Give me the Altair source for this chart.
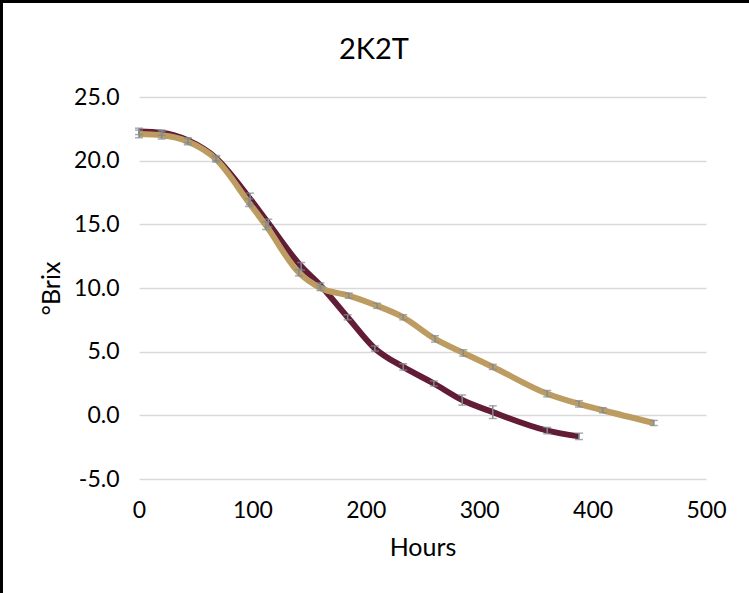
import altair as alt
import pandas as pd

# Series A (maroon)
hours_a = [0, 20, 43, 68, 98, 114, 143, 160, 184, 208, 233, 260, 285, 312, 360, 388]
brix_a = [22.3, 22.2, 21.6, 20.2, 17.0, 15.1, 11.7, 10.2, 7.7, 5.25, 3.8, 2.5, 1.2, 0.25, -1.2, -1.65]
err_a = [0.25, 0.2, 0.2, 0.2, 0.45, 0.3, 0.3, 0.2, 0.2, 0.2, 0.25, 0.2, 0.4, 0.5, 0.25, 0.25]

# Series B (tan)
hours_b = [0, 20, 43, 68, 97, 112, 141, 160, 185, 210, 233, 261, 286, 312, 360, 388, 409, 454]
brix_b = [22.1, 22.0, 21.5, 20.1, 16.7, 14.9, 11.2, 10.0, 9.4, 8.6, 7.7, 6.0, 4.9, 3.8, 1.7, 0.9, 0.4, -0.6]
err_b = [0.3, 0.3, 0.25, 0.2, 0.3, 0.3, 0.25, 0.2, 0.2, 0.2, 0.2, 0.25, 0.25, 0.2, 0.25, 0.25, 0.2, 0.2]

y_ticks = [-5, 0, 5, 10, 15, 20, 25]
x_ticks = [0, 100, 200, 300, 400, 500]
chart_title = ["2K2T"]

da = pd.DataFrame({"h": hours_a, "b": brix_a, "e": err_a, "s": "A"})
db = pd.DataFrame({"h": hours_b, "b": brix_b, "e": err_b, "s": "B"})
for d in (da, db):
    d["lo"] = d["b"] - d["e"]
    d["hi"] = d["b"] + d["e"]
dall = pd.concat([da, db], ignore_index=True)

FONT = "Lato"
W, H = 567, 382
PL, PT = 139, 97

ylab = "datum.value < 0 ? '-' + format(-datum.value, '.1f') : format(datum.value, '.1f')"

xs = alt.X("h:Q", scale=alt.Scale(domain=[0, 500], nice=False),
           axis=alt.Axis(values=x_ticks, title="Hours", format="d", labelFlush=False))
ys = alt.Y("b:Q", scale=alt.Scale(domain=[-5, 25], nice=False),
           axis=alt.Axis(values=y_ticks, title="°Brix", labelExpr=ylab))

line_a = alt.Chart(da).mark_line(color="#621c35", strokeWidth=6,
                                 interpolate="monotone").encode(x=xs, y=ys)
line_b = alt.Chart(db).mark_line(color="#bd9c61", strokeWidth=6,
                                 interpolate="monotone").encode(x=xs, y=ys)

bars = alt.Chart(dall).mark_rule(color="#808a92", strokeWidth=1.5).encode(
    x="h:Q", y="lo:Q", y2="hi:Q")
caps_lo = alt.Chart(dall).mark_tick(color="#808a92", thickness=1.5, size=8,
                                    orient="horizontal").encode(x="h:Q", y="lo:Q")
caps_hi = alt.Chart(dall).mark_tick(color="#808a92", thickness=1.5, size=8,
                                    orient="horizontal").encode(x="h:Q", y="hi:Q")

title_txt = alt.Chart(pd.DataFrame({"t": chart_title})).mark_text(
    font=FONT, fontSize=29, color="#000000", align="center", baseline="middle"
).encode(text="t:N", x=alt.value(374 - PL), y=alt.value(50 - PT))

# frame border (decoration)
border_top = alt.Chart(da).mark_rule(color="black", strokeWidth=3).encode(
    x=alt.value(-PL), x2=alt.value(749 - PL), y=alt.value(-PT + 1))
border_left = alt.Chart(da).mark_rule(color="black", strokeWidth=2.5).encode(
    x=alt.value(-PL + 1), y=alt.value(-PT), y2=alt.value(593 - PT))

chart = alt.layer(line_a, line_b, bars, caps_lo, caps_hi, title_txt,
                  border_top, border_left).properties(
    width=W, height=H,
    autosize=alt.AutoSizeParams(type="none"),
    padding={"left": PL, "top": PT, "right": 749 - PL - W, "bottom": 593 - PT - H},
).configure_view(stroke=None).configure_axis(
    domain=False, ticks=False, grid=True, gridColor="#d9d9d9", gridWidth=1.3,
    labelFont=FONT, labelFontSize=23, labelColor="#000000",
    titleFont=FONT, titleFontSize=25, titleFontWeight="normal", titleColor="#000000",
).configure_axisX(grid=False, labelPadding=20, titlePadding=13).configure_axisY(
    labelPadding=20, titlePadding=9)

chart.save("out.html", embed_options={"renderer": "svg", "actions": False})
